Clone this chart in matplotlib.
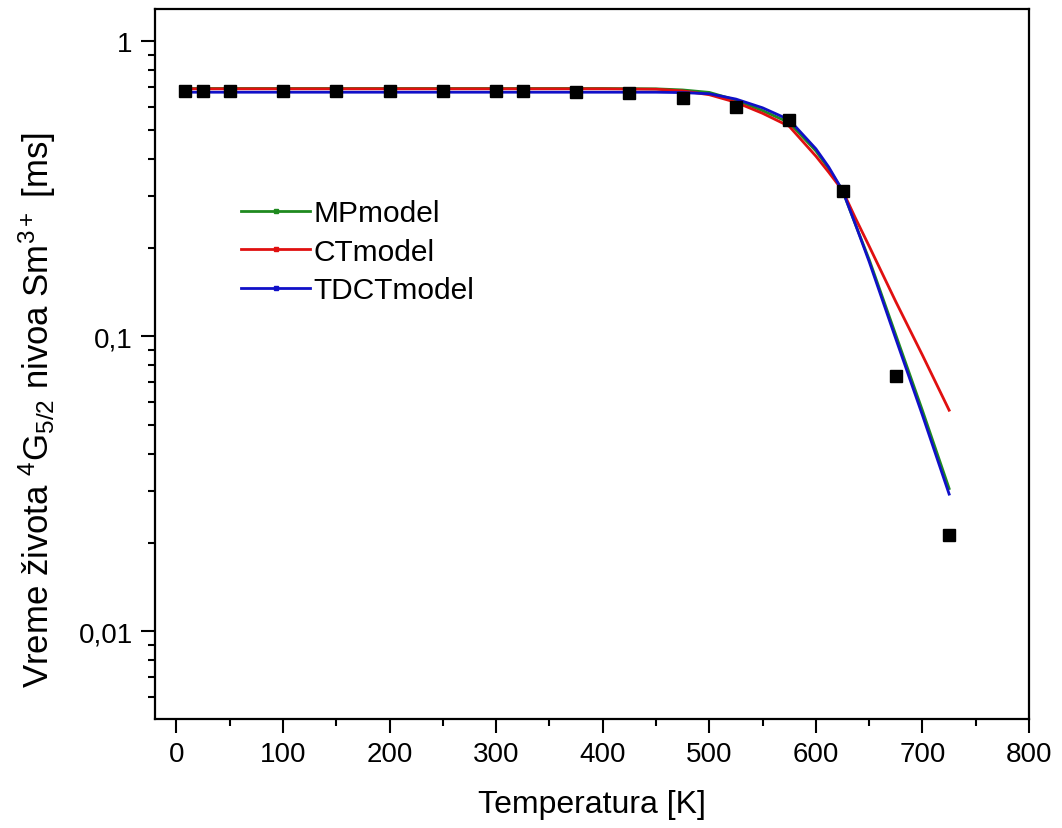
import matplotlib
matplotlib.use("Agg")
import matplotlib.pyplot as plt
from matplotlib.lines import Line2D
from matplotlib.ticker import FixedLocator, FuncFormatter, MultipleLocator

plt.rcParams["font.family"] = ["Liberation Sans", "DejaVu Sans"]
plt.rcParams["mathtext.fontset"] = "custom"
plt.rcParams["mathtext.rm"] = "Liberation Sans"
plt.rcParams["mathtext.it"] = "Liberation Sans"

# measured lifetimes
T_exp = [8, 25, 50, 100, 150, 200, 250, 300, 325, 375, 425, 475, 525, 575, 625, 675, 725]
tau_exp = [0.680, 0.680, 0.680, 0.680, 0.680, 0.680, 0.679, 0.679, 0.679, 0.673, 0.668,
           0.640, 0.597, 0.542, 0.312, 0.0735, 0.0212]

# model curves
T_fit = [8, 100, 200, 300, 400, 450, 475, 500, 525, 550, 575, 600, 612, 625, 637, 650,
         675, 700, 725]
tau_mp = [0.692, 0.692, 0.692, 0.692, 0.692, 0.690, 0.684, 0.671, 0.632, 0.582, 0.530,
          0.425, 0.370, 0.312, 0.240, 0.182, 0.101, 0.056, 0.0305]
tau_ct = [0.690, 0.690, 0.690, 0.690, 0.690, 0.688, 0.679, 0.659, 0.621, 0.570, 0.515,
          0.408, 0.360, 0.312, 0.252, 0.202, 0.131, 0.0863, 0.0562]
tau_tdct = [0.672, 0.672, 0.672, 0.672, 0.672, 0.672, 0.670, 0.664, 0.637, 0.595, 0.542,
            0.432, 0.375, 0.312, 0.240, 0.179, 0.098, 0.054, 0.0292]

labels = ["MPmodel", "CTmodel", "TDCTmodel"]
colors = ["#1f8a1f", "#e01010", "#1010c8"]

fig = plt.figure(figsize=(10.62, 8.29), dpi=100)
ax = fig.add_axes([0.146, 0.1315, 0.823, 0.8565])

for tau, c in zip([tau_mp, tau_ct, tau_tdct], colors):
    ax.plot(T_fit, tau, "-", color=c, lw=2.0)

ax.plot(T_exp, tau_exp, "s", color="black", markersize=9, zorder=5)

ax.set_yscale("log")
ax.set_xlim(-20, 800)
ax.set_ylim(0.00505, 1.287)

ax.xaxis.set_major_locator(MultipleLocator(100))
ax.xaxis.set_minor_locator(MultipleLocator(50))
ax.yaxis.set_major_locator(FixedLocator([0.01, 0.1, 1]))
ax.yaxis.set_major_formatter(FuncFormatter(lambda v, p: {0.01: "0,01", 0.1: "0,1", 1: "1"}.get(round(v, 3), "")))

for s in ax.spines.values():
    s.set_linewidth(1.6)

ax.tick_params(which="both", direction="out", top=False, right=False, width=1.5)
ax.tick_params(which="major", length=10, labelsize=20, pad=6)
ax.tick_params(which="minor", length=5)

ax.set_xlabel("Temperatura [K]", fontsize=23, labelpad=16)
ax.set_ylabel(r"Vreme života $\mathregular{^4}$G$\mathregular{_{5/2}}$ nivoa Sm$\mathregular{^{3+}}$ [ms]",
              fontsize=25)
ax.yaxis.set_label_coords(-0.111, 0.437)

handles = [Line2D([0], [0], color=c, lw=2.0, marker="s", markersize=3) for c in colors]
ax.legend(handles, labels, loc="upper left", bbox_to_anchor=(0.068, 0.77), frameon=False,
          fontsize=21.5, handlelength=2.3, handletextpad=0.1, labelspacing=0.35)

fig.savefig("out.png", dpi=100)
